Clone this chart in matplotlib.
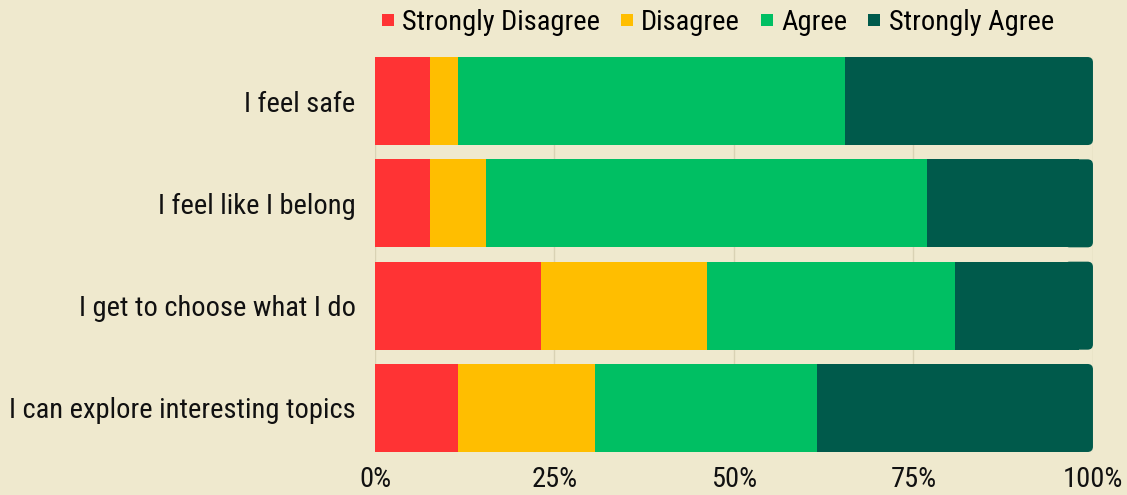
import matplotlib.pyplot as plt
from matplotlib.patches import FancyBboxPatch
from matplotlib.lines import Line2D

plt.rcParams["font.family"] = ["Roboto Condensed", "Liberation Sans Narrow", "Roboto", "DejaVu Sans"]

# survey responses, percent of respondents
statements = [
    "I feel safe",
    "I feel like I belong",
    "I get to choose what I do",
    "I can explore interesting topics",
]
strongly_disagree = [7.7, 7.7, 23.1, 11.5]
disagree = [3.9, 7.7, 23.1, 19.2]
agree = [53.8, 61.5, 34.6, 30.8]
strongly_agree = [34.6, 23.1, 19.2, 38.5]

categories = ["Strongly Disagree", "Disagree", "Agree", "Strongly Agree"]
colors = ["#FF3334", "#FFBE00", "#00BF63", "#005A4B"]
bg = "#EFE9CE"

fig = plt.figure(figsize=(11.27, 4.95), dpi=100, facecolor=bg)
ax = fig.add_axes([0.3327, 0.0869, 0.6371, 0.7979], facecolor=bg)

ypos = list(range(len(statements)))
h = 0.86
series = [strongly_disagree, disagree, agree, strongly_agree]

lefts = [0] * len(statements)
for vals, col in zip(series, colors):
    if col == colors[3]:
        # square part, the rounded end is added below
        ax.barh(ypos, [v - 2 for v in vals], left=lefts, height=h, color=col, zorder=3)
    else:
        ax.barh(ypos, vals, left=lefts, height=h, color=col, zorder=3)
    lefts = [l + v for l, v in zip(lefts, vals)]

for y in ypos:
    box = FancyBboxPatch(
        (96, y - h / 2), 4, h,
        boxstyle="round,pad=0,rounding_size=0.75",
        mutation_aspect=0.07, facecolor=colors[3], edgecolor="none", zorder=2,
    )
    ax.add_patch(box)

ax.set_xlim(0, 100)
ax.set_ylim(len(statements) - 1 + h / 2, -h / 2)
ax.set_yticks(ypos)
ax.set_yticklabels(statements, fontsize=20.5, color="#111111")
ax.set_xticks([0, 25, 50, 75, 100])
ax.set_xticklabels(["0%", "25%", "50%", "75%", "100%"], fontsize=20.5, color="#111111")
ax.tick_params(length=0, axis="x", pad=10)
ax.tick_params(length=0, axis="y", pad=14)
ax.grid(axis="x", color="#D9D2B4", linewidth=1, zorder=0)
for sp in ax.spines.values():
    sp.set_visible(False)

handles = [
    Line2D([], [], marker="s", linestyle="none", markersize=8, color=c, markeredgewidth=0)
    for c in colors
]
fig.legend(
    handles, categories, loc="center", bbox_to_anchor=(715 / 1127, 1 - 22 / 495),
    ncol=4, frameon=False, fontsize=20.5, handletextpad=0.1, columnspacing=0.55,
    handlelength=0.8,
)

fig.savefig("out.png", dpi=100, facecolor=bg)
